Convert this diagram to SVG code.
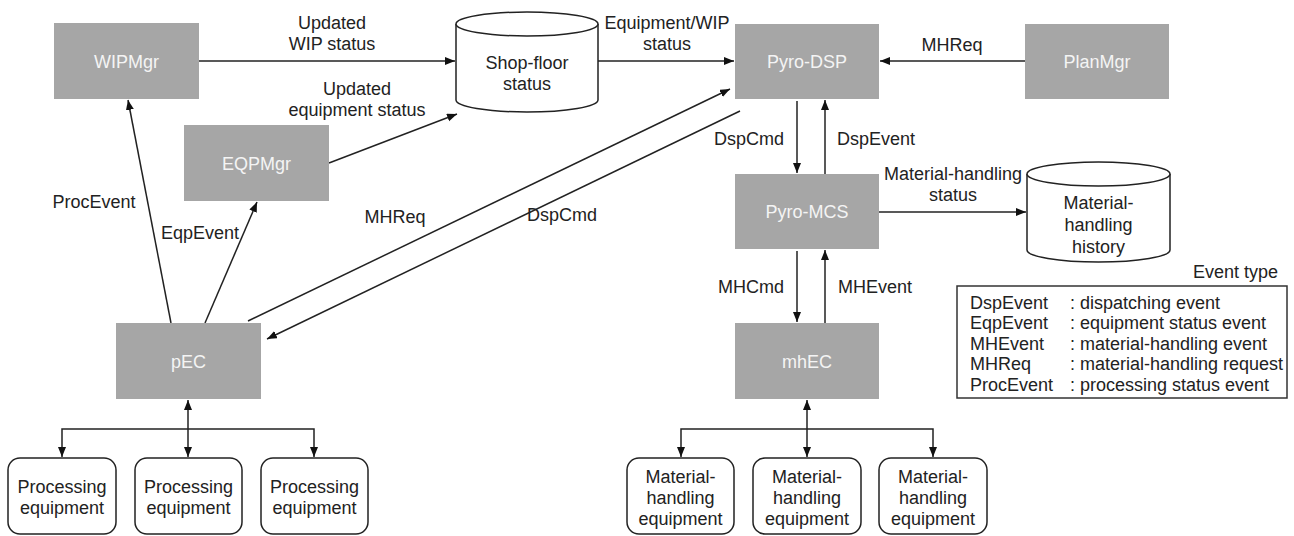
<svg xmlns="http://www.w3.org/2000/svg" width="1294" height="536" viewBox="0 0 1294 536">
  <style>
    text { font-family: "Liberation Sans", Arial, sans-serif; font-size: 18px; fill: #222; }
    .node rect.box { fill: #a6a6a6; }
    .node text.nl { fill: #f4f4f4; text-anchor: middle; }
    .db path, .db ellipse { fill: #fff; stroke: #222; stroke-width: 1.5; }
    .equip rect { fill: #fff; stroke: #222; stroke-width: 1.5; }
    .c { text-anchor: middle; }
    .e { text-anchor: end; }
    #connectors path { fill: none; stroke: #222; stroke-width: 1.5; }
    .arr { marker-end: url(#ah); }
    .bi { marker-start: url(#ah); marker-end: url(#ah); }
  </style>
  <defs>
    <marker id="ah" markerUnits="userSpaceOnUse" markerWidth="11" markerHeight="9" refX="10" refY="4" orient="auto-start-reverse">
      <path d="M0,0 L10,4 L0,8 Z" fill="#111"/>
    </marker>
  </defs>
  <rect width="1294" height="536" fill="#fff"/>

  <!-- Connectors -->
  <g id="connectors">
    <path class="arr" d="M199,61 H455"/>
    <path class="arr" d="M329,163 L457,114"/>
    <path class="arr" d="M598,61 H734"/>
    <path class="arr" d="M1025,61 H880"/>
    <path class="arr" d="M248,321 L730,89"/>
    <path class="arr" d="M740,111 L267,339"/>
    <path class="arr" d="M171,323 L128,100"/>
    <path class="arr" d="M205,323 L257,202"/>
    <path class="arr" d="M797,101 V173"/>
    <path class="arr" d="M825,174 V100"/>
    <path class="arr" d="M879,212 H1026"/>
    <path class="arr" d="M797,251 V322"/>
    <path class="arr" d="M825,323 V250"/>
    <path class="bi" d="M188,400 V457"/>
    <path class="arr" d="M188,429 H62 V457"/>
    <path class="arr" d="M188,429 H314 V457"/>
    <path class="bi" d="M807,400 V457"/>
    <path class="arr" d="M807,429 H681 V457"/>
    <path class="arr" d="M807,429 H933 V457"/>
  </g>

  <!-- Connector labels -->
  <g id="labels">
    <text class="c" x="332" y="29">Updated</text>
    <text class="c" x="332" y="50">WIP status</text>
    <text class="c" x="357" y="95">Updated</text>
    <text class="c" x="357" y="116">equipment status</text>
    <text class="c" x="667" y="29">Equipment/WIP</text>
    <text class="c" x="667" y="50">status</text>
    <text class="c" x="952" y="51">MHReq</text>
    <text class="c" x="94" y="208">ProcEvent</text>
    <text class="c" x="200" y="239">EqpEvent</text>
    <text class="c" x="395" y="223">MHReq</text>
    <text class="c" x="562" y="221">DspCmd</text>
    <text class="e" x="784" y="145">DspCmd</text>
    <text x="837" y="145">DspEvent</text>
    <text class="c" x="953" y="180">Material-handling</text>
    <text class="c" x="953" y="201">status</text>
    <text class="e" x="784" y="293">MHCmd</text>
    <text x="838" y="293">MHEvent</text>
  </g>

  <!-- Components -->
  <g id="WIPMgr" class="node">
    <rect class="box" x="54" y="23" width="145" height="76"/>
    <text class="nl" x="126.5" y="67.5">WIPMgr</text>
  </g>
  <g id="EQPMgr" class="node">
    <rect class="box" x="184" y="125" width="145" height="76"/>
    <text class="nl" x="256.5" y="169.5">EQPMgr</text>
  </g>
  <g id="PyroDSP" class="node">
    <rect class="box" x="735" y="24" width="144" height="75"/>
    <text class="nl" x="807" y="67.5">Pyro-DSP</text>
  </g>
  <g id="PlanMgr" class="node">
    <rect class="box" x="1025" y="24" width="144" height="75"/>
    <text class="nl" x="1097" y="67.5">PlanMgr</text>
  </g>
  <g id="PyroMCS" class="node">
    <rect class="box" x="735" y="174" width="144" height="75"/>
    <text class="nl" x="807" y="218">Pyro-MCS</text>
  </g>
  <g id="mhEC" class="node">
    <rect class="box" x="735" y="323" width="144" height="76"/>
    <text class="nl" x="807" y="367.5">mhEC</text>
  </g>
  <g id="pEC" class="node">
    <rect class="box" x="116" y="323" width="145" height="76"/>
    <text class="nl" x="188.5" y="367.5">pEC</text>
  </g>

  <!-- Data stores -->
  <g id="ShopFloorStatus" class="db">
    <path d="M456,24 V100 A71,12 0 0 0 598,100 V24"/>
    <ellipse cx="527" cy="24" rx="71" ry="12"/>
    <text class="c" x="527" y="69">Shop-floor</text>
    <text class="c" x="527" y="90">status</text>
  </g>
  <g id="MHHistory" class="db">
    <path d="M1027,174 V250 A71.5,12 0 0 0 1170,250 V174"/>
    <ellipse cx="1098.5" cy="174" rx="71.5" ry="12"/>
    <text class="c" x="1098.5" y="209">Material-</text>
    <text class="c" x="1098.5" y="231">handling</text>
    <text class="c" x="1098.5" y="253">history</text>
  </g>

  <!-- Processing equipment -->
  <g id="PE1" class="equip">
    <rect x="8" y="458" width="108" height="76" rx="12"/>
    <text class="c" x="62" y="493">Processing</text>
    <text class="c" x="62" y="514">equipment</text>
  </g>
  <g id="PE2" class="equip">
    <rect x="135" y="458" width="107" height="76" rx="12"/>
    <text class="c" x="188.5" y="493">Processing</text>
    <text class="c" x="188.5" y="514">equipment</text>
  </g>
  <g id="PE3" class="equip">
    <rect x="261" y="458" width="107" height="76" rx="12"/>
    <text class="c" x="314.5" y="493">Processing</text>
    <text class="c" x="314.5" y="514">equipment</text>
  </g>

  <!-- Material-handling equipment -->
  <g id="MHE1" class="equip">
    <rect x="627" y="458" width="107" height="76" rx="12"/>
    <text class="c" x="680.5" y="483">Material-</text>
    <text class="c" x="680.5" y="504">handling</text>
    <text class="c" x="680.5" y="525">equipment</text>
  </g>
  <g id="MHE2" class="equip">
    <rect x="753" y="458" width="108" height="76" rx="12"/>
    <text class="c" x="807" y="483">Material-</text>
    <text class="c" x="807" y="504">handling</text>
    <text class="c" x="807" y="525">equipment</text>
  </g>
  <g id="MHE3" class="equip">
    <rect x="879" y="458" width="108" height="76" rx="12"/>
    <text class="c" x="933" y="483">Material-</text>
    <text class="c" x="933" y="504">handling</text>
    <text class="c" x="933" y="525">equipment</text>
  </g>

  <!-- Event type legend -->
  <g id="legend">
    <text class="e" x="1278" y="278">Event type</text>
    <rect x="957" y="286" width="330" height="112" fill="#fff" stroke="#333" stroke-width="1.5"/>
    <text x="970" y="308.5">DspEvent</text>
    <text x="1070" y="308.5">: dispatching event</text>
    <text x="970" y="329">EqpEvent</text>
    <text x="1070" y="329">: equipment status event</text>
    <text x="970" y="349.5">MHEvent</text>
    <text x="1070" y="349.5">: material-handling event</text>
    <text x="970" y="370">MHReq</text>
    <text x="1070" y="370">: material-handling request</text>
    <text x="970" y="390.5">ProcEvent</text>
    <text x="1070" y="390.5">: processing status event</text>
  </g>
</svg>
